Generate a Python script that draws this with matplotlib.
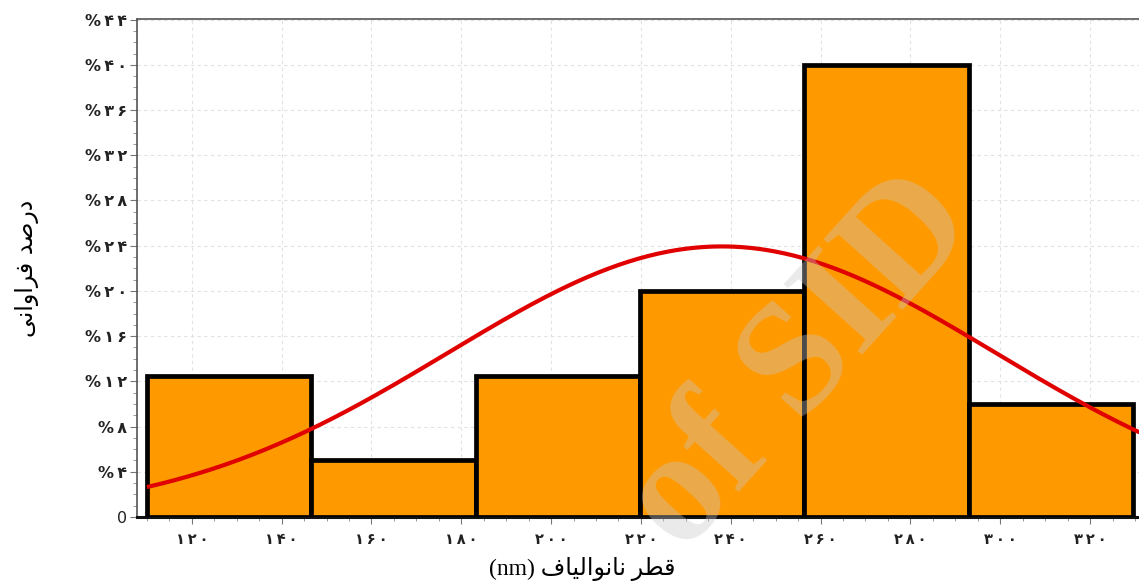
import numpy as np
import matplotlib.pyplot as plt
from matplotlib.ticker import MultipleLocator, FixedLocator

# histogram of nanofiber diameters (percent of fibers per bin)
bin_edges = [110.0, 146.6, 183.2, 219.8, 256.4, 293.0, 329.6]
percents = [12.5, 5, 12.5, 20, 40, 10]

# fitted normal curve
fit_mean = 238.0
fit_sd = 61.0

x_ticks = [120, 140, 160, 180, 200, 220, 240, 260, 280, 300, 320]
y_ticks = [0, 4, 8, 12, 16, 20, 24, 28, 32, 36, 40, 44]

# Persian text, written in visual order with joined letter forms
x_title_fa = "\uFED1\uFE8E\uFEF4\uFEDF\uFE8D\uFEEE\uFEE7\uFE8E\uFEE7 \uFEAE\uFEC4\uFED7"
y_title_fa = "\uFEF0\uFEE7\uFE8D\uFEED\uFE8D\uFEAE\uFED3 \uFEAA\uFEBB\uFEAD\uFEA9"

fa_digits = str.maketrans("0123456789", "۰۱۲۳۴۵۶۷۸۹")
thin = "\u2009"


def fa(n):
    return thin.join(str(n).translate(fa_digits))


fig = plt.figure(figsize=(11.39, 5.87), dpi=100)
ax = fig.add_axes([137 / 1139, 1 - 517 / 587, 1 - 137 / 1139, 498.5 / 587])

widths = np.diff(bin_edges)
ax.bar(bin_edges[:-1], percents, width=widths, align="edge",
       color="#FF9900", edgecolor="black", linewidth=3.4, zorder=3)

xs = np.linspace(bin_edges[0], 331, 300)
pdf = np.exp(-0.5 * ((xs - fit_mean) / fit_sd) ** 2) / (fit_sd * np.sqrt(2 * np.pi))
ax.plot(xs, 100 * widths.mean() * pdf, color="#E00000", linewidth=3.0,
        zorder=4, solid_capstyle="butt")

ax.set_xlim(107.8, 330.9)
ax.set_ylim(0, 44.1)

ax.xaxis.set_major_locator(FixedLocator(x_ticks))
ax.xaxis.set_minor_locator(MultipleLocator(5))
ax.yaxis.set_major_locator(FixedLocator(y_ticks))
ax.yaxis.set_minor_locator(MultipleLocator(1))

ax.set_xticklabels([fa(v) for v in x_ticks], fontsize=10.5,
                   fontweight="bold", family="DejaVu Sans", color="#222222")
ax.set_yticklabels(["0"] + ["%" + thin + fa(v) for v in y_ticks[1:]],
                   fontsize=11.5, fontweight="bold", family="DejaVu Sans",
                   color="#222222")
ax.get_yticklabels()[0].set_fontweight("normal")

ax.tick_params(axis="both", which="major", direction="out", length=5,
               width=0.8, color="#777777")
ax.tick_params(axis="both", which="minor", direction="out", length=3,
               width=0.7, color="#999999")
ax.tick_params(axis="x", pad=6)
ax.tick_params(axis="y", pad=2)

ax.grid(True, which="major", color="#e2e2e2", linestyle=(0, (3, 3)),
        linewidth=0.8, zorder=0)

for side in ("left", "top"):
    ax.spines[side].set_color("#555555")
    ax.spines[side].set_linewidth(1.2)
ax.spines["bottom"].set_color("#111111")
ax.spines["bottom"].set_linewidth(2.2)
ax.spines["right"].set_visible(False)

fig.text(582 / 1139, 1 - 569 / 587, "(nm) " + x_title_fa, ha="center",
         va="center", fontsize=17, family=["Liberation Serif", "DejaVu Sans"])
fig.text(27 / 1139, 1 - 268 / 587, y_title_fa, rotation=90, ha="center",
         va="center", fontsize=17, family="DejaVu Sans")

# site watermark
fig.text(802 / 1139, 1 - 364 / 587, "of SID", rotation=48, ha="center",
         va="center", fontsize=116, fontweight="bold",
         family="Liberation Serif", color="#c8c8c8", alpha=0.38, zorder=10)

fig.savefig("out.png", dpi=100)
